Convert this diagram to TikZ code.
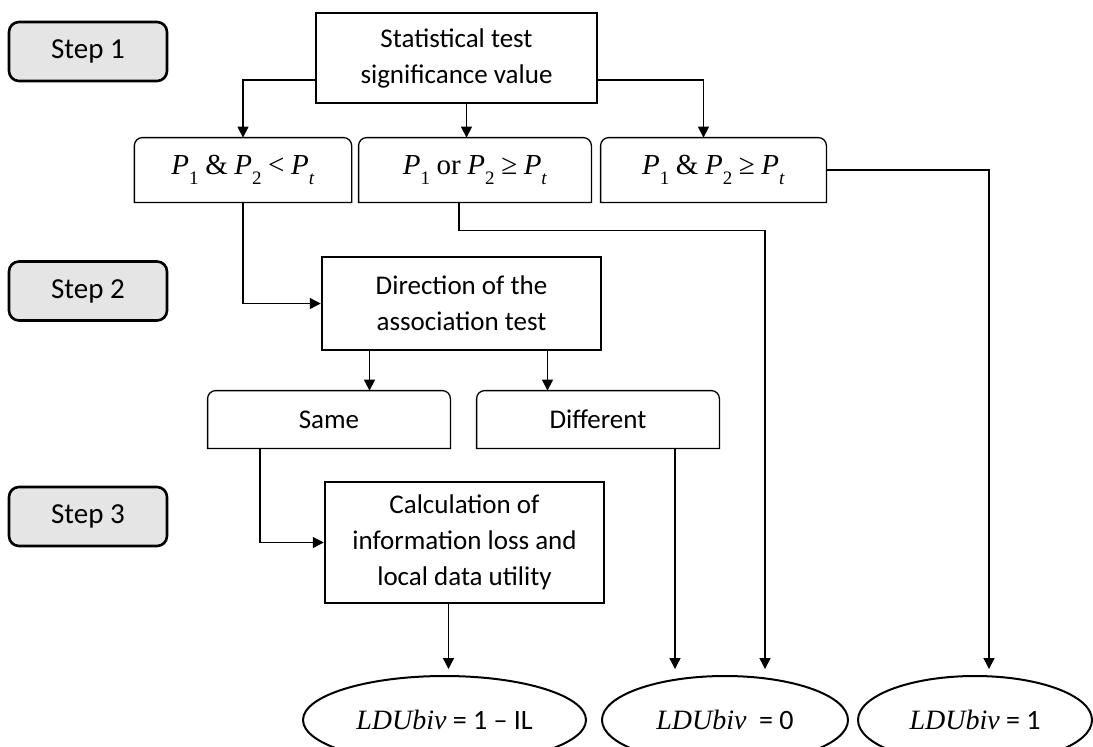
\documentclass[tikz,border=0pt]{standalone}
\usepackage{fontspec}
\setmainfont{Carlito}
\newfontfamily\eqfont{Liberation Serif}
\usetikzlibrary{arrows.meta,shapes.geometric}
\newcommand{\boxfont}{\fontsize{13.5}{18}\selectfont}
\newcommand{\eqsize}{\eqfont\fontsize{14.5}{16}\selectfont}
\newcommand{\Pv}[1]{\textit{P}\raisebox{-0.8ex}{\fontsize{9.5}{9.5}\selectfont #1}}
\newcommand{\gap}{\kern3.3pt}

\begin{document}
\begin{tikzpicture}[
    x=0.5pt, y=-0.5pt,
    node distance=56pt,
    stepbox/.style={rectangle, draw, line width=1.3pt, rounded corners=5pt, fill=black!10, minimum width=79pt, minimum height=29.5pt, inner sep=0pt, font=\fontsize{14.5}{18}\selectfont},
    box/.style={rectangle, draw, line width=1.25pt, inner sep=0pt, align=center, font=\boxfont},
    cond/.style={rectangle, inner sep=0pt, align=center,
        append after command={\pgfextra{\draw[line width=0.65pt, rounded corners=4pt, line cap=rect]
            (\tikzlastnode.south west) |- (\tikzlastnode.north east) -- (\tikzlastnode.south east)
            (\tikzlastnode.south west) -- (\tikzlastnode.south east);}}},
    result/.style={ellipse, draw, line width=1pt, inner sep=0pt, minimum height=44pt, font=\fontsize{14}{16}\selectfont},
    arrow/.style={->, >={Triangle[length=5.5pt, width=5.5pt]}, line width=0.65pt}
]
    \useasboundingbox (0,0) rectangle (1093,746);
    \clip (0,0) rectangle (1093,746);

    % steps on the left
    \node[box, minimum width=140.5pt, minimum height=45pt] (stat) at (456.5,58) {Statistical test\\significance value};
    \node[stepbox, left of=stat, xshift=-128.25pt, yshift=3.25pt] (step1) {Step 1};
    \node[stepbox, below of=step1, yshift=-63.75pt] (step2) {Step 2};
    \node[stepbox, below of=step2, yshift=-56.75pt] (step3) {Step 3};

    % significance outcomes
    \node[cond, font=\eqsize, minimum width=116pt, minimum height=32pt, below of=stat, xshift=9.25pt] (pB) {\Pv{1}\gap or\gap\Pv{2}\gap≥\gap\Pv{\textit{t}}};
    \node[cond, font=\eqsize, minimum width=108.25pt, minimum height=32pt, left of=pB, xshift=-60pt] (pA) {\Pv{1}\gap\&\gap\Pv{2}\gap<\gap\Pv{\textit{t}}};
    \node[cond, font=\eqsize, minimum width=112.5pt, minimum height=32pt, right of=pB, xshift=63.25pt] (pC) {\Pv{1}\gap\&\gap\Pv{2}\gap≥\gap\Pv{\textit{t}}};

    \node[box, minimum width=139.5pt, minimum height=46.5pt, below of=pB, xshift=-6.75pt, yshift=-10.75pt] (dir) {Direction of the\\association test};

    \node[cond, font=\boxfont, minimum width=121pt, minimum height=28.5pt, below of=dir, xshift=-66.25pt, yshift=-2pt] (same) {Same};
    \node[cond, font=\boxfont, minimum width=121pt, minimum height=28.5pt, right of=same, xshift=78.5pt] (diff) {Different};

    \node[box, minimum width=139.5pt, minimum height=60.5pt, below of=same, xshift=67.75pt, yshift=-5.5pt] (calc) {Calculation of\\information loss and\\local data utility};

    % results
    \node[result, minimum width=141.5pt, below of=calc, xshift=-10pt, yshift=-32.75pt] (ell1) {{\eqfont\itshape LDUbiv} = 1 – IL};
    \node[result, minimum width=123pt, right of=ell1, xshift=84.25pt] (ell2) {{\eqfont\itshape LDUbiv} \ = 0};
    \node[result, minimum width=117pt, right of=ell2, xshift=69pt] (ell3) {{\eqfont\itshape LDUbiv} = 1};

    \draw[arrow] ([yshift=-11pt]stat.west) -| (pA.north);
    \draw[arrow] ([xshift=5pt]stat.south) -- ([xshift=5pt]stat.south |- pB.north);
    \draw[arrow] ([yshift=-11pt]stat.east) -| ([xshift=-5pt]pC.north);
    \draw[arrow, shorten >=3pt] (pC.east) -| ([xshift=7pt]ell3.north);
    \draw[arrow, shorten >=3pt] ([xshift=-8pt]pB.south) -- ++(0,-14pt) -| ([xshift=20pt]ell2.north);
    \draw[arrow] (pA.south) |- (dir.west);
    \draw[arrow] ([xshift=-46pt]dir.south) -- ([xshift=-46pt]dir.south |- same.north);
    \draw[arrow] ([xshift=43pt]dir.south) -- ([xshift=43pt]dir.south |- diff.north);
    \draw[arrow] ([xshift=-34.5pt]same.south) |- (calc.west);
    \draw[arrow, shorten >=3pt] ([xshift=-8pt]calc.south) -- ([xshift=-8pt]calc.south |- ell1.north);
    \draw[arrow, shorten >=3pt] ([xshift=38.5pt]diff.south) -- ([xshift=38.5pt]diff.south |- ell2.north);
\end{tikzpicture}
\end{document}
